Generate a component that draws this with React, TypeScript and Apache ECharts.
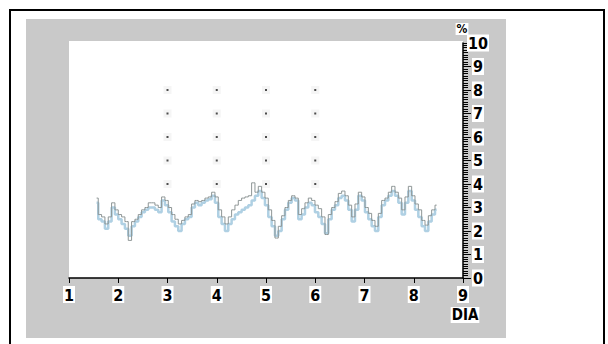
import React, { useEffect, useRef } from "react";
import * as echarts from "echarts";

// Sample positions (DIA) for the traces
const startDay = 1.56;
const dayStep = 0.0677;

// Gray trace (%)
const grayValues = [
  3.4, 2.7, 2.6, 2.3, 2.6, 3.2, 2.9, 2.7, 2.6, 2.4,
  1.6, 2.4, 2.5, 2.7, 2.9, 3.0, 3.2, 3.2, 3.1, 3.0,
  3.45, 3.3, 3.0, 2.7, 2.5, 2.3, 2.45, 2.6, 2.7, 3.15,
  3.3, 3.25, 3.3, 3.4, 3.45, 3.65, 3.45, 2.9, 2.6, 2.3,
  2.6, 2.9, 3.1, 3.3, 3.4, 3.45, 3.5, 4.05, 3.65, 3.9,
  3.65, 3.4, 2.9, 2.45, 1.7, 2.2, 2.65, 3.0, 3.3, 3.5,
  3.4, 2.7, 2.95, 3.2, 3.4, 3.3, 3.1, 2.95, 2.6, 1.85,
  2.7, 3.0, 3.25, 3.6, 3.7, 3.5, 3.1, 2.6, 3.15, 3.65,
  3.45, 3.0, 2.75, 2.45, 2.2, 2.75, 3.3, 3.4, 3.65, 3.9,
  3.65, 3.4, 2.9, 3.45, 3.9, 3.5, 3.15, 2.9, 2.45, 2.25,
  2.65, 2.9, 3.1,
];

// Light-blue trace (%)
const blueValues = [
  3.2, 2.5, 2.4, 2.1, 2.4, 3.0, 2.7, 2.5, 2.3, 2.1,
  1.8, 2.2, 2.4, 2.6, 2.8, 2.9, 3.0, 3.0, 2.9, 2.8,
  3.3, 3.1, 2.8, 2.4, 2.2, 2.0, 2.3, 2.5, 2.6, 3.0,
  3.2, 3.1, 3.2, 3.3, 3.35, 3.5, 3.2, 2.6, 2.3, 2.0,
  2.3, 2.5, 2.7, 2.8, 2.9, 3.0, 3.1, 3.3, 3.5, 3.7,
  3.4, 3.1, 2.6, 2.2, 1.8, 2.0, 2.5, 2.9, 3.2, 3.4,
  3.3, 2.5, 2.7, 3.0, 3.2, 3.1, 2.8, 2.6, 2.3, 1.9,
  2.5, 2.9, 3.1, 3.4, 3.5, 3.3, 2.9, 2.4, 2.9, 3.5,
  3.3, 2.8, 2.5, 2.2, 2.0, 2.6, 3.1, 3.3, 3.5, 3.7,
  3.5, 3.2, 2.7, 3.2, 3.7, 3.3, 2.9, 2.6, 2.2, 2.0,
  2.4, 2.7, 2.9,
];

// Marker grid
const dotDays = [3, 4, 5, 6];
const dotLevels = [4, 5, 6, 7, 8];

// Axes
const xTicks = [1, 2, 3, 4, 5, 6, 7, 8, 9];
const yTicks = [0, 1, 2, 3, 4, 5, 6, 7, 8, 9, 10];

const labelFont = '"DejaVu Sans Condensed", "Liberation Sans Narrow", "Arial Narrow", sans-serif';

export default function App() {
  const ref = useRef<HTMLDivElement>(null);

  useEffect(() => {
    if (!ref.current) return;
    const chart = echarts.init(ref.current, null, { renderer: "svg" });

    const grayData = grayValues.map((v, i) => [+(startDay + i * dayStep).toFixed(4), v]);
    const blueData = blueValues.map((v, i) => [+(startDay + i * dayStep).toFixed(4), v]);
    const dots: number[][] = [];
    dotDays.forEach((d) => dotLevels.forEach((l) => dots.push([d, l])));

    const labelStyle = {
      color: "#000",
      fontFamily: labelFont,
      fontWeight: "bold" as const,
      fontSize: 16,
      backgroundColor: "#fff",
      padding: [1, 1, 0, 1],
    };

    chart.setOption({
      animation: false,
      backgroundColor: "#fff",
      grid: { left: 69, right: 145, top: 43, bottom: 66, containLabel: false },
      xAxis: {
        type: "value",
        min: xTicks[0],
        max: xTicks[xTicks.length - 1],
        interval: 1,
        axisLine: { show: true, onZero: false, lineStyle: { color: "#000", width: 1.5 } },
        axisTick: { show: true, length: 5, lineStyle: { color: "#000", width: 1 } },
        axisLabel: { ...labelStyle, margin: 8 },
        splitLine: { show: false },
      },
      yAxis: {
        type: "value",
        position: "right",
        min: yTicks[0],
        max: yTicks[yTicks.length - 1],
        interval: 1,
        axisLine: { show: true, lineStyle: { color: "#000", width: 1.5 } },
        axisTick: { show: true, length: 8, lineStyle: { color: "#000", width: 1 } },
        minorTick: { show: true, splitNumber: 10, length: 5, lineStyle: { color: "#000", width: 1 } },
        axisLabel: { ...labelStyle, margin: 15, align: "center" },
        splitLine: { show: false },
      },
      graphic: [
        { type: "rect", z: -100, shape: { x: 26, y: 19, width: 480, height: 319 }, style: { fill: "#c9c9c9" } },
        { type: "rect", z: -90, shape: { x: 69, y: 41, width: 394, height: 237 }, style: { fill: "#fff" } },
        { type: "rect", z: 100, shape: { x: 10, y: 10, width: 594, height: 345 }, style: { fill: "none", stroke: "#000", lineWidth: 2 } },
        {
          type: "text", z: 100, x: 462, y: 29,
          style: { text: "%", fontFamily: labelFont, fontWeight: "bold", fontSize: 12, fill: "#000", align: "center", verticalAlign: "middle", backgroundColor: "#fff", padding: [0, 1] },
        },
        {
          type: "text", z: 100, x: 465, y: 315,
          style: { text: "DIA", fontFamily: labelFont, fontWeight: "bold", fontSize: 15, fill: "#000", align: "center", verticalAlign: "middle", backgroundColor: "#fff", padding: [1, 1, 0, 1] },
        },
      ],
      series: [
        {
          type: "scatter",
          data: dots,
          symbol: "rect",
          symbolSize: 8,
          itemStyle: { color: "#f3f3f3" },
          silent: true,
          z: 1,
        },
        {
          type: "scatter",
          data: dots,
          symbol: "rect",
          symbolSize: 2,
          itemStyle: { color: "#222" },
          silent: true,
          z: 3,
        },
        {
          type: "line",
          data: blueData,
          step: "middle",
          showSymbol: false,
          lineStyle: { color: "#afd0e3", width: 2.5 },
          z: 2,
        },
        {
          type: "line",
          data: grayData,
          step: "middle",
          showSymbol: false,
          lineStyle: { color: "#8e9696", width: 1 },
          z: 3,
        },
      ],
    });

    return () => chart.dispose();
  }, []);

  return (
    <div style={{ position: "fixed", left: 0, top: 0, width: 608, height: 344 }}>
      <div ref={ref} style={{ width: 608, height: 344 }} />
    </div>
  );
}
